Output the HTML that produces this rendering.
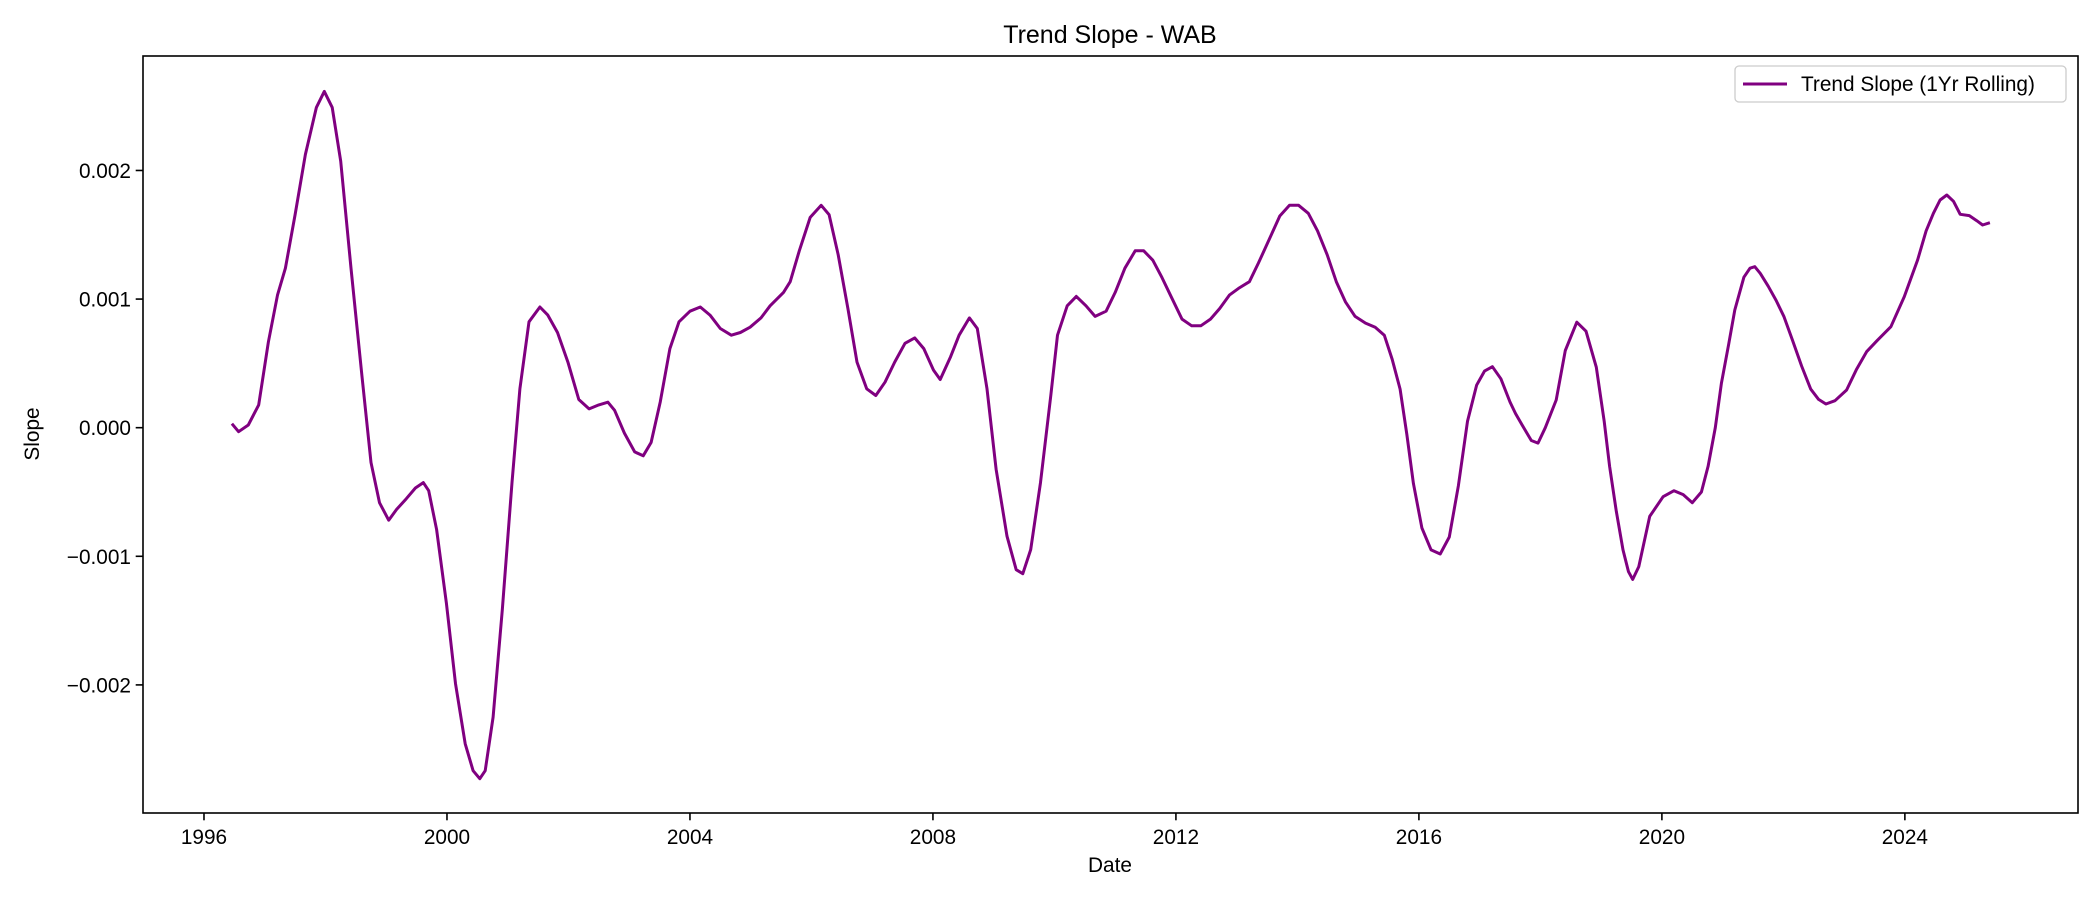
<!DOCTYPE html>
<html><head><meta charset="utf-8"><style>
html,body{margin:0;padding:0;background:#fff;}
svg{display:block;font-family:"Liberation Sans","DejaVu Sans",sans-serif;}
</style></head><body>
<svg id="chart" width="2100" height="900" viewBox="0 0 2100 900">
<rect width="2100" height="900" fill="#fff"/>
<text x="1110" y="43" font-size="25" text-anchor="middle">Trend Slope - WAB</text>
<g id="ticks"></g>
<polyline id="line" fill="none" stroke="#800080" stroke-width="3" stroke-linejoin="round"/>
<rect x="143" y="56" width="1935" height="757" fill="none" stroke="#000" stroke-width="1.6"/>
<text x="1110" y="872" font-size="20.8" text-anchor="middle">Date</text>
<text x="0" y="0" font-size="20.8" text-anchor="middle" transform="translate(39,434) rotate(-90)">Slope</text>
<g>
<rect x="1735" y="66" width="331" height="36" rx="4" fill="#fff" stroke="#ccc" stroke-width="1.3"/>
<line x1="1743" y1="84" x2="1787" y2="84" stroke="#800080" stroke-width="3"/>
<text x="1801" y="91" font-size="20.8">Trend Slope (1Yr Rolling)</text>
</g>
</svg>
<script>
const xTicks = [1996, 2000, 2004, 2008, 2012, 2016, 2020, 2024];
const yTicks = [-0.002, -0.001, 0, 0.001, 0.002];
const yTickLabels = ["\u22120.002", "\u22120.001", "0.000", "0.001", "0.002"];
const years = [1996.46,1996.57,1996.73,1996.90,1997.06,1997.21,1997.34,1997.50,1997.67,1997.85,1997.98,1998.11,1998.25,1998.42,1998.60,1998.75,1998.89,1999.04,1999.17,1999.33,1999.48,1999.61,1999.70,1999.83,1999.99,2000.14,2000.30,2000.43,2000.54,2000.63,2000.76,2000.91,2001.07,2001.20,2001.35,2001.53,2001.66,2001.82,2001.99,2002.17,2002.34,2002.50,2002.65,2002.76,2002.92,2003.09,2003.23,2003.36,2003.51,2003.67,2003.82,2004.00,2004.17,2004.33,2004.50,2004.68,2004.83,2004.99,2005.17,2005.32,2005.54,2005.65,2005.80,2005.98,2006.16,2006.29,2006.44,2006.60,2006.75,2006.91,2007.06,2007.21,2007.37,2007.54,2007.70,2007.85,2008.01,2008.12,2008.29,2008.43,2008.60,2008.73,2008.89,2009.04,2009.22,2009.37,2009.48,2009.61,2009.77,2009.94,2010.05,2010.21,2010.36,2010.52,2010.67,2010.85,2011.00,2011.16,2011.33,2011.47,2011.62,2011.77,2011.93,2012.10,2012.26,2012.41,2012.57,2012.72,2012.88,2013.03,2013.21,2013.36,2013.54,2013.71,2013.87,2014.02,2014.18,2014.33,2014.49,2014.64,2014.79,2014.95,2015.12,2015.28,2015.43,2015.56,2015.69,2015.80,2015.91,2016.05,2016.20,2016.35,2016.50,2016.65,2016.80,2016.95,2017.08,2017.21,2017.35,2017.50,2017.59,2017.70,2017.85,2017.96,2018.08,2018.26,2018.41,2018.60,2018.75,2018.92,2019.05,2019.14,2019.25,2019.36,2019.45,2019.52,2019.62,2019.80,2020.02,2020.20,2020.35,2020.50,2020.65,2020.76,2020.88,2020.98,2021.10,2021.20,2021.35,2021.45,2021.53,2021.62,2021.75,2021.88,2022.01,2022.15,2022.30,2022.45,2022.58,2022.70,2022.85,2023.04,2023.20,2023.37,2023.55,2023.77,2023.99,2024.21,2024.35,2024.47,2024.58,2024.69,2024.80,2024.91,2025.06,2025.18,2025.28,2025.40];
const slopes = [0.031,-0.031,0.021,0.177,0.667,1.031,1.240,1.656,2.125,2.490,2.615,2.490,2.073,1.240,0.406,-0.271,-0.583,-0.719,-0.635,-0.552,-0.469,-0.427,-0.490,-0.792,-1.365,-1.990,-2.458,-2.667,-2.729,-2.667,-2.250,-1.417,-0.427,0.302,0.823,0.938,0.875,0.740,0.510,0.219,0.146,0.177,0.198,0.135,-0.042,-0.188,-0.219,-0.115,0.198,0.615,0.823,0.906,0.938,0.875,0.771,0.719,0.740,0.781,0.854,0.948,1.052,1.135,1.375,1.635,1.729,1.656,1.344,0.927,0.510,0.302,0.250,0.354,0.510,0.656,0.698,0.615,0.448,0.375,0.552,0.719,0.854,0.771,0.302,-0.323,-0.844,-1.104,-1.135,-0.948,-0.427,0.250,0.719,0.948,1.021,0.948,0.865,0.906,1.052,1.240,1.375,1.375,1.302,1.167,1.010,0.844,0.792,0.792,0.844,0.927,1.031,1.083,1.135,1.281,1.469,1.646,1.729,1.729,1.667,1.531,1.344,1.135,0.979,0.865,0.813,0.781,0.719,0.531,0.300,-0.050,-0.433,-0.780,-0.950,-0.982,-0.850,-0.450,0.050,0.330,0.440,0.474,0.380,0.200,0.110,0.020,-0.100,-0.120,0.000,0.215,0.600,0.820,0.750,0.470,0.050,-0.300,-0.650,-0.950,-1.120,-1.180,-1.080,-0.690,-0.537,-0.490,-0.520,-0.583,-0.500,-0.300,0.000,0.345,0.650,0.915,1.170,1.240,1.252,1.200,1.100,0.990,0.863,0.680,0.480,0.300,0.220,0.184,0.210,0.293,0.450,0.591,0.680,0.785,1.019,1.304,1.530,1.667,1.770,1.809,1.760,1.659,1.649,1.610,1.576,1.594];

const X0 = 143, X1 = 2078, Y0 = 813, Y1 = 56;
const xMin = 1994.996, xMax = 2026.85, yMin = -0.002996, yMax = 0.00289;
function xs(v){ return X0 + (v - xMin) / (xMax - xMin) * (X1 - X0); }
function ys(v){ return Y0 - (v - yMin) / (yMax - yMin) * (Y0 - Y1); }

const NS = "http://www.w3.org/2000/svg";
const g = document.getElementById('ticks');
xTicks.forEach(t => {
  const x = xs(t);
  const l = document.createElementNS(NS, 'line');
  l.setAttribute('x1', x); l.setAttribute('x2', x);
  l.setAttribute('y1', Y0); l.setAttribute('y2', Y0 + 7.3);
  l.setAttribute('stroke', '#000'); l.setAttribute('stroke-width', '1.6');
  
  
  g.appendChild(l);
  const tx = document.createElementNS(NS, 'text');
  tx.setAttribute('x', x); tx.setAttribute('y', Y0 + 31);
  tx.setAttribute('font-size', '20.8'); tx.setAttribute('text-anchor', 'middle');
  tx.textContent = String(t);
  
  
  g.appendChild(tx);
});
yTicks.forEach((t, i) => {
  const y = ys(t);
  const l = document.createElementNS(NS, 'line');
  l.setAttribute('x1', X0 - 7.3); l.setAttribute('x2', X0);
  l.setAttribute('y1', y); l.setAttribute('y2', y);
  l.setAttribute('stroke', '#000'); l.setAttribute('stroke-width', '1.6');
  
  
  g.appendChild(l);
  const tx = document.createElementNS(NS, 'text');
  tx.setAttribute('x', X0 - 12); tx.setAttribute('y', y + 7.5);
  tx.setAttribute('font-size', '20.8'); tx.setAttribute('text-anchor', 'end');
  tx.textContent = yTickLabels[i];
  
  
  g.appendChild(tx);
});
const pts = years.map((yr, i) => xs(yr).toFixed(1) + ',' + ys(slopes[i] / 1000).toFixed(1)).join(' ');
document.getElementById('line').setAttribute('points', pts);
</script>
</body></html>
